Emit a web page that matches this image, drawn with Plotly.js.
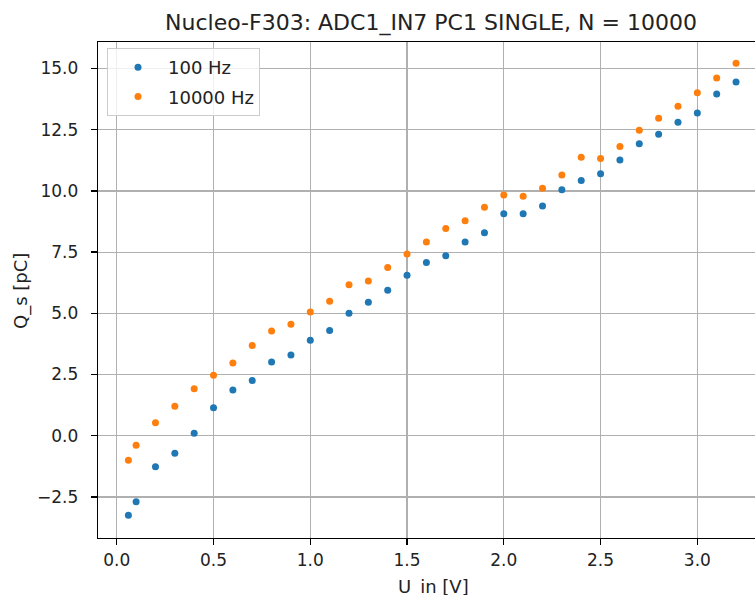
<!DOCTYPE html>
<html>
<head>
<meta charset="utf-8">
<script src="https://cdn.plot.ly/plotly-3.0.1.min.js"></script>
<style>html,body{margin:0;padding:0;background:#fff;}#chart{width:755px;height:595px;}</style>
</head>
<body>
<div id="chart"></div>
<script>
const U_in = [0.06, 0.1, 0.2, 0.3, 0.4, 0.5, 0.6, 0.7, 0.8, 0.9, 1.0, 1.1, 1.2, 1.3, 1.4, 1.5, 1.6, 1.7, 1.8, 1.9, 2.0, 2.1, 2.2, 2.3, 2.4, 2.5, 2.6, 2.7, 2.8, 2.9, 3.0, 3.1, 3.2];
const Q_100Hz = [-3.25, -2.70, -1.27, -0.72, 0.10, 1.14, 1.87, 2.25, 3.01, 3.30, 3.90, 4.30, 5.00, 5.45, 5.94, 6.55, 7.08, 7.35, 7.91, 8.29, 9.07, 9.07, 9.38, 10.05, 10.43, 10.70, 11.26, 11.93, 12.31, 12.80, 13.18, 13.96, 14.45];
const Q_10000Hz = [-1.00, -0.39, 0.53, 1.20, 1.92, 2.47, 2.97, 3.68, 4.28, 4.55, 5.05, 5.49, 6.17, 6.32, 6.87, 7.42, 7.91, 8.46, 8.78, 9.33, 9.83, 9.78, 10.11, 10.65, 11.37, 11.32, 11.81, 12.48, 12.97, 13.46, 14.01, 14.61, 15.22];
const seriesNames = ["100 Hz", "10000 Hz"];
const titleText = "Nucleo-F303: ADC1_IN7 PC1 SINGLE, N = 10000";
const xLabel = "U_in [V]";
const yLabel = "Q_s [pC]";

const FONT = "DejaVu Sans";
const traces = [
  {x: U_in, y: Q_100Hz, name: seriesNames[0], type: "scatter", mode: "markers",
   marker: {color: "#1f77b4", size: 7}, legendgroup: "a"},
  {x: U_in, y: Q_10000Hz, name: seriesNames[1], type: "scatter", mode: "markers",
   marker: {color: "#ff7f0e", size: 7}, legendgroup: "b"}
];

const axisCommon = {
  showgrid: true, gridcolor: "#b0b0b0", gridwidth: 1.2,
  zeroline: false, showline: true, linecolor: "#000", linewidth: 1.3,
  ticks: "outside", ticklen: 6, tickwidth: 1.3, tickcolor: "#000",
  tickfont: {family: FONT, size: 17, color: "#222"},
  tickformat: ".1f"
};

const layout = {
  width: 755, height: 595,
  margin: {l: 98, r: 0, t: 42, b: 57, pad: 0},
  paper_bgcolor: "#fff", plot_bgcolor: "#fff",
  font: {family: FONT, color: "#222"},
  title: {text: titleText, font: {family: FONT, size: 22, color: "#222"},
          xref: "container", x: 431/755, xanchor: "center",
          yref: "container", y: 1 - 22.5/595, yanchor: "middle"},
  xaxis: Object.assign({}, axisCommon, {range: [-0.097, 3.298], tick0: 0, dtick: 0.5, mirror: true, ticklabelstandoff: 0}),
  yaxis: Object.assign({}, axisCommon, {range: [-4.179, 16.083], tick0: 0, dtick: 2.5, mirror: false, ticklabelstandoff: 9}),
  showlegend: true,
  legend: {x: 0.0137, y: 0.988, xanchor: "left", yanchor: "top",
           traceorder: "grouped", tracegroupgap: 3,
           bgcolor: "rgba(255,255,255,0.8)", bordercolor: "#cccccc", borderwidth: 1,
           font: {family: FONT, size: 18, color: "#222"}, itemwidth: 50},
  annotations: [
    {text: xLabel, xref: "paper", yref: "paper", x: (433-98)/657, y: -(587-538)/496,
     xanchor: "center", yanchor: "middle", showarrow: false,
     font: {family: FONT, size: 18, color: "#222"}},
    {text: yLabel, xref: "paper", yref: "paper", x: (21-98)/657, y: (538-291)/496, textangle: -90,
     xanchor: "center", yanchor: "middle", showarrow: false,
     font: {family: FONT, size: 18, color: "#222"}}
  ]
};

Plotly.newPlot("chart", traces, layout, {displayModeBar: false, staticPlot: true});
</script>
</body>
</html>
